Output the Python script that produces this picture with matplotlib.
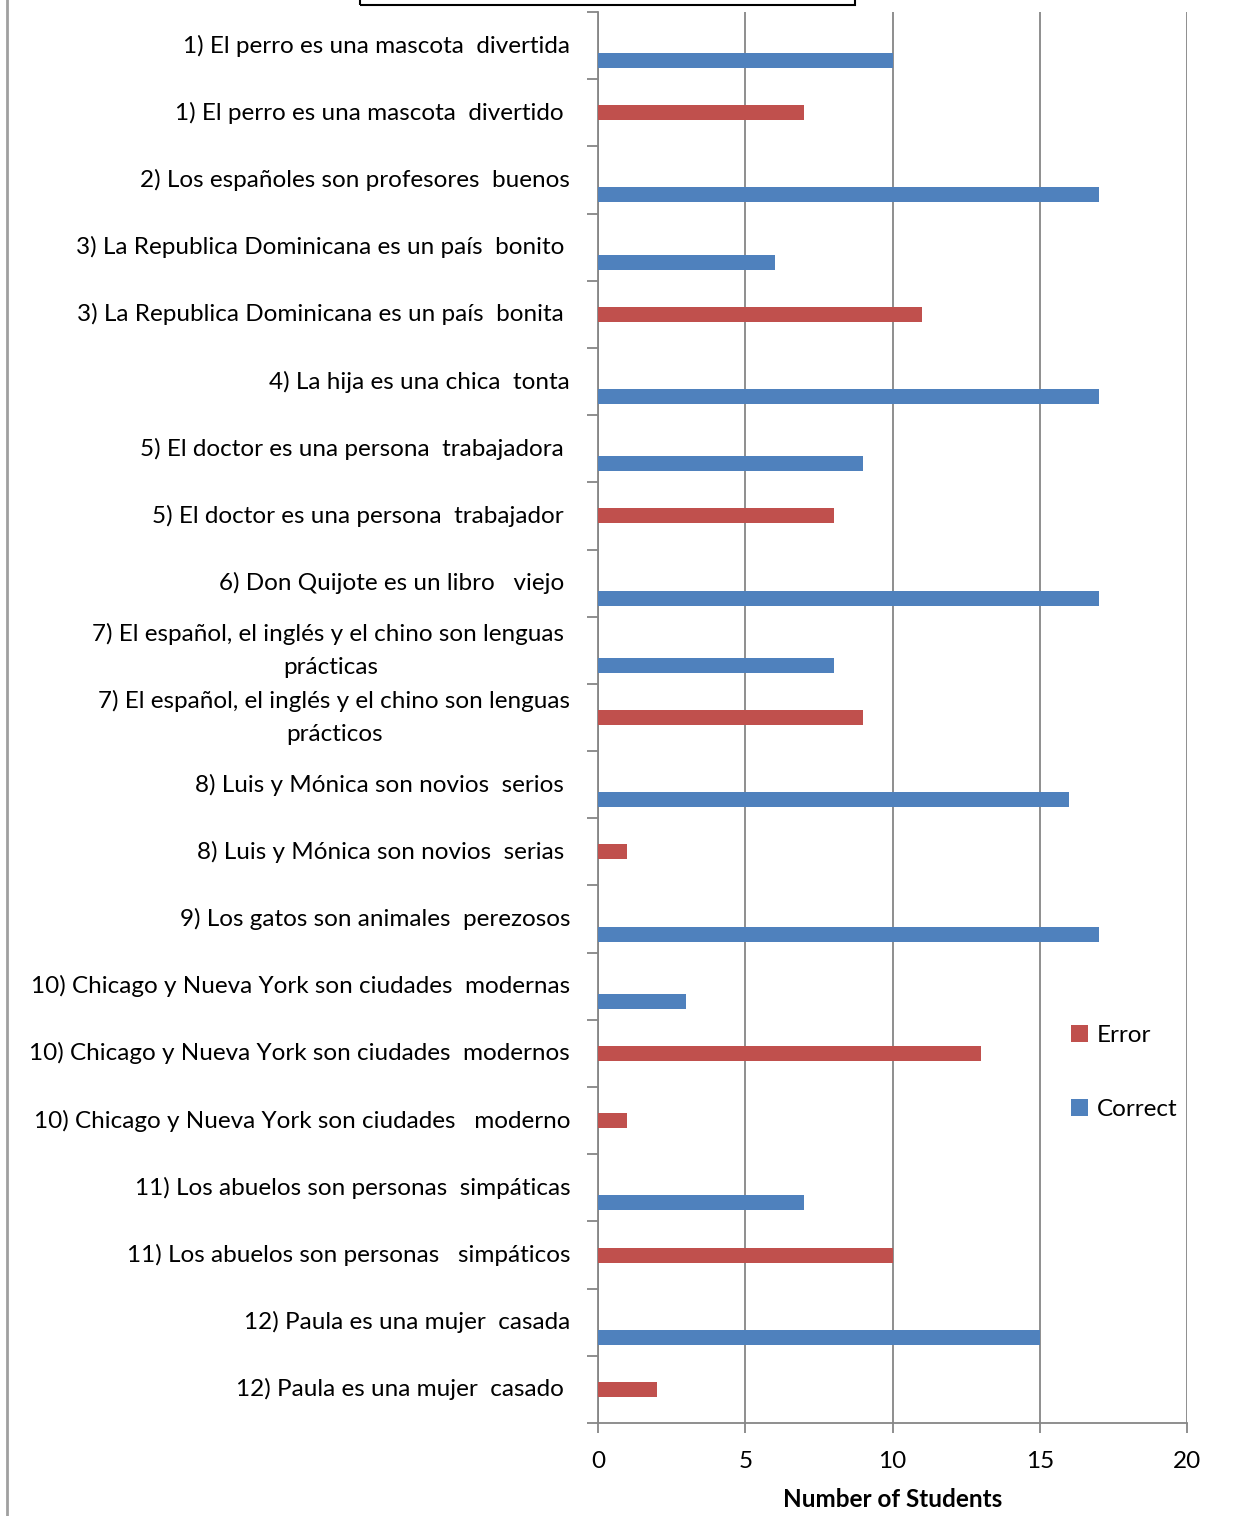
import matplotlib
matplotlib.use("Agg")
import matplotlib.pyplot as plt
from matplotlib.patches import Rectangle
import numpy as np

# data
labels = [
    "1) El perro es una mascota  divertida",
    "1) El perro es una mascota  divertido ",
    "2) Los españoles son profesores  buenos",
    "3) La Republica Dominicana es un país  bonito ",
    "3) La Republica Dominicana es un país  bonita ",
    "4) La hija es una chica  tonta",
    "5) El doctor es una persona  trabajadora ",
    "5) El doctor es una persona  trabajador ",
    "6) Don Quijote es un libro   viejo ",
    "7) El español, el inglés y el chino son lenguas \nprácticas",
    "7) El español, el inglés y el chino son lenguas\nprácticos",
    "8) Luis y Mónica son novios  serios ",
    "8) Luis y Mónica son novios  serias ",
    "9) Los gatos son animales  perezosos",
    "10) Chicago y Nueva York son ciudades  modernas",
    "10) Chicago y Nueva York son ciudades  modernos",
    "10) Chicago y Nueva York son ciudades   moderno",
    "11) Los abuelos son personas  simpáticas",
    "11) Los abuelos son personas   simpáticos",
    "12) Paula es una mujer  casada",
    "12) Paula es una mujer  casado ",
]
correct = [10, 0, 17, 6, 0, 17, 9, 0, 17, 8, 0, 16, 0, 17, 3, 0, 0, 7, 0, 15, 0]
error = [0, 7, 0, 0, 11, 0, 0, 8, 0, 0, 9, 0, 1, 0, 0, 13, 1, 0, 10, 0, 2]
x_ticks = [0, 5, 10, 15, 20]

BLUE = "#4F81BD"
RED = "#C0504D"
GRID = "#868686"

plt.rcParams["font.family"] = ["Lato", "DejaVu Sans"]

W, H = 1255, 1516
fig = plt.figure(figsize=(W / 100, H / 100), dpi=100)
ax = fig.add_axes([598 / W, 1 - 1423 / H, (1187 - 598) / W, (1423 - 12) / H])

n = len(labels)
y = np.arange(n)
bh = 15 / 67.2
ax.barh(y, error, height=bh, color=RED, label="Error", zorder=3)
ax.barh(y + bh, correct, height=bh, color=BLUE, label="Correct", zorder=3)

ax.set_ylim(n - 0.5, -0.5)
ax.set_xlim(0, 20)

ax.set_yticks(y)
ax.set_yticklabels(labels, fontsize=17.5, ha="right", va="center",
                   multialignment="center", linespacing=1.7)
ax.set_yticks(np.arange(n + 1) - 0.5, minor=True)
ax.tick_params(axis="y", which="major", length=0, pad=20)
ax.tick_params(axis="y", which="minor", length=8, color=GRID, width=1.3)

ax.set_xticks(x_ticks)
ax.tick_params(axis="x", length=7, color=GRID, width=1.3, labelsize=17.5, pad=13)
ax.grid(axis="x", color=GRID, linewidth=1.3, zorder=0)
ax.set_xlabel("Number of Students", fontsize=17.5, fontweight="bold", labelpad=12)

for s in ["top", "right"]:
    ax.spines[s].set_visible(False)
for s in ["left", "bottom"]:
    ax.spines[s].set_color(GRID)
    ax.spines[s].set_linewidth(1.3)

handles, lbls = ax.get_legend_handles_labels()
fig.legend(handles, lbls, loc="upper left", bbox_to_anchor=(1049 / W, 1 - 1003 / H),
           frameon=False, fontsize=17.5, handlelength=0.7, handleheight=0.7,
           handletextpad=0.35, labelspacing=2.2)

# chart area border and cut-off title box
fig.add_artist(plt.Line2D([7 / W, 7 / W], [0, 1], color="#A0A0A0", linewidth=2))
fig.add_artist(Rectangle((360 / W, 1 - 5 / H), (855 - 360) / W, 0.05,
                         fill=False, edgecolor="black", linewidth=1.5))

fig.savefig("out.png", dpi=100)
